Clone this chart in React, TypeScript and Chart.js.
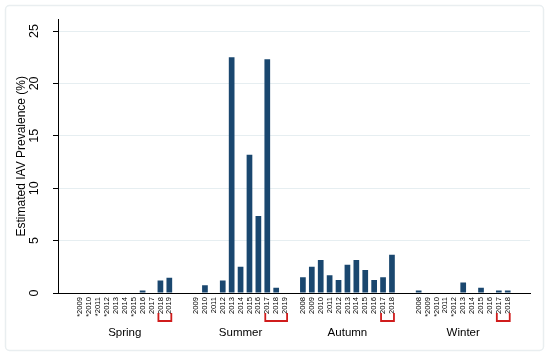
import React, { useEffect, useRef } from "react";
import { Chart, registerables } from "chart.js";

Chart.register(...registerables);

const springYears = ["*2009", "*2010", "*2011", "*2012", "2013", "2014", "*2015", "2016", "2017", "2018", "2019"];
const springValues = [0, 0, 0, 0, 0, 0, 0, 0.25, 0, 1.2, 1.45];
const summerYears = ["2009", "2010", "2011", "2012", "2013", "2014", "2015", "2016", "2017", "2018", "2019"];
const summerValues = [0, 0.75, 0, 1.2, 22.5, 2.5, 13.2, 7.35, 22.3, 0.5, 0];
const autumnYears = ["2008", "2009", "2010", "2011", "2012", "2013", "2014", "2015", "2016", "2017", "2018"];
const autumnValues = [1.5, 2.5, 3.15, 1.7, 1.25, 2.7, 3.15, 2.2, 1.25, 1.5, 3.65];
const winterYears = ["2008", "*2009", "*2010", "2011", "*2012", "2013", "2014", "2015", "2016", "2017", "2018"];
const winterValues = [0.25, 0, 0, 0, 0, 1.0, 0, 0.5, 0, 0.25, 0.25];

const seasonNames = ["Spring", "Summer", "Autumn", "Winter"];
// empty year slots before / after each season group (missing years)
const emptyBefore = [1, 1, 0, 0];
const emptyAfter = [0, 0, 1, 1];
// bracketed (first, last) year labels per season
const bracketFrom = ["2018", "2017", "2017", "2017"];
const bracketTo = ["2019", "2019", "2018", "2018"];

const yTicks = [0, 5, 10, 15, 20, 25];
const yTitle = "Estimated IAV Prevalence (%)";

const FONT = "'Liberation Sans', Arial, sans-serif";
const BAR = "#1a476f";

export default function App() {
  const ref = useRef<HTMLCanvasElement>(null);

  useEffect(() => {
    const groups = [
      { years: springYears, values: springValues },
      { years: summerYears, values: summerValues },
      { years: autumnYears, values: autumnValues },
      { years: winterYears, values: winterValues },
    ];
    const labels: string[] = [];
    const values: (number | null)[] = [];
    const groupRanges: { start: number; end: number }[] = [];
    const push = (l: string, v: number | null) => {
      labels.push(l);
      values.push(v);
    };
    push("", null); // outer gap
    groups.forEach((g, gi) => {
      if (gi > 0) push("", null); // group gap
      for (let k = 0; k < emptyBefore[gi]; k++) push("", null);
      const start = labels.length;
      g.years.forEach((y, i) => push(y, g.values[i]));
      groupRanges.push({ start, end: labels.length - 1 });
      for (let k = 0; k < emptyAfter[gi]; k++) push("", null);
    });
    push("", null); // outer gap

    const decor = {
      id: "decor",
      beforeDraw(chart: any) {
        const ctx = chart.ctx;
        ctx.save();
        ctx.strokeStyle = "#e9eef0";
        ctx.lineWidth = 1.5;
        ctx.beginPath();
        (ctx as any).roundRect ? ctx.roundRect(5.5, 5.5, 538, 345, 4) : ctx.rect(5.5, 5.5, 538, 345);
        ctx.stroke();
        ctx.restore();
      },
      afterDraw(chart: any) {
        const ctx = chart.ctx;
        const xs = chart.scales.x;
        ctx.save();
        groupRanges.forEach((r, gi) => {
          const years = groups[gi].years;
          const a = xs.getPixelForValue(r.start + years.indexOf(bracketFrom[gi])) - 2;
          const b = xs.getPixelForValue(r.start + years.indexOf(bracketTo[gi])) + 2;
          ctx.strokeStyle = "#d01c1c";
          ctx.lineWidth = 1.8;
          ctx.beginPath();
          ctx.moveTo(a, 313);
          ctx.lineTo(a, 321);
          ctx.lineTo(b, 321);
          ctx.lineTo(b, 313);
          ctx.stroke();
          const cx = (xs.getPixelForValue(r.start) + xs.getPixelForValue(r.end)) / 2;
          ctx.fillStyle = "#000";
          ctx.font = `11.5px ${FONT}`;
          ctx.textAlign = "center";
          ctx.textBaseline = "middle";
          ctx.fillText(seasonNames[gi], cx, 333);
        });
        ctx.restore();
      },
    };

    const chart = new Chart(ref.current!, {
      type: "bar",
      data: {
        labels,
        datasets: [
          {
            data: values,
            backgroundColor: BAR,
            borderWidth: 0,
            barPercentage: 0.64,
            categoryPercentage: 1,
          },
        ],
      },
      options: {
        animation: false,
        responsive: false,
        maintainAspectRatio: false,
        layout: { padding: { top: 18, right: 20, left: 0, bottom: 0 } },
        plugins: { legend: { display: false }, tooltip: { enabled: false } },
        scales: {
          x: {
            type: "category",
            offset: true,
            grid: { display: false, drawTicks: false },
            border: { display: true, color: "#000", width: 1 },
            ticks: {
              autoSkip: false,
              minRotation: 90,
              maxRotation: 90,
              padding: 4,
              color: "#000",
              font: { family: FONT, size: 7.6 },
            },
            afterFit(scale: any) {
              scale.height = 63;
            },
          },
          y: {
            min: 0,
            max: 26.1,
            afterBuildTicks(scale: any) {
              scale.ticks = yTicks.map((v) => ({ value: v }));
            },
            grid: {
              color: "#e6eef1",
              lineWidth: 1,
              tickLength: 5,
              tickColor: "#000",
            },
            border: { display: true, color: "#000", width: 1 },
            ticks: {
              minRotation: 90,
              maxRotation: 90,
              crossAlign: "center",
              padding: 12,
              color: "#000",
              font: { family: FONT, size: 12.5 },
            },
            title: {
              display: true,
              text: yTitle,
              color: "#000",
              font: { family: FONT, size: 12 },
              padding: { top: 14, bottom: 0 },
            },
            afterFit(scale: any) {
              scale.width = 58;
            },
          },
        },
      },
      plugins: [decor],
    } as any);
    return () => chart.destroy();
  }, []);

  return (
    <div style={{ position: "fixed", left: 0, top: 0, width: 550, height: 356, background: "#fff" }}>
      <canvas ref={ref} width={550} height={356} style={{ width: 550, height: 356 }} />
    </div>
  );
}
